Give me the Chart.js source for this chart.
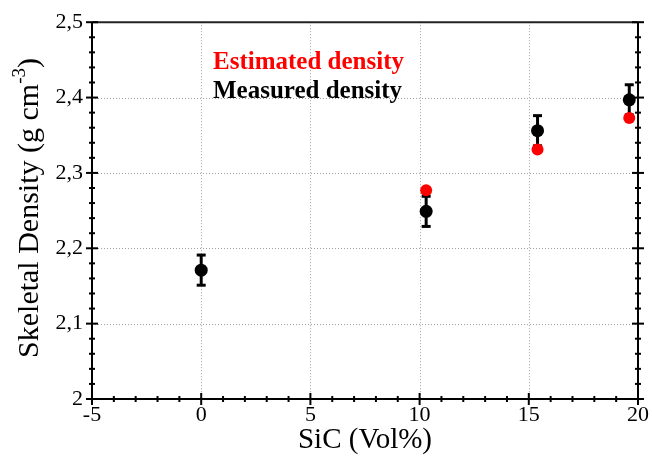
<!DOCTYPE html>
<html>
<head>
<meta charset="utf-8">
<script src="https://cdn.jsdelivr.net/npm/chart.js@4.4.1/dist/chart.umd.min.js"></script>
<style>
html,body{margin:0;padding:0;background:#fff;}
#wrap{width:652px;height:456px;position:relative;}
</style>
</head>
<body>
<div id="wrap"><canvas id="c" width="652" height="456"></canvas></div>
<script>
// ---- data ----
const sicVol = [0, 10.3, 15.4, 19.6];
const measuredDensity = [2.171, 2.249, 2.356, 2.397];
const measuredError = [0.02, 0.02, 0.02, 0.02];
const estSicVol = [10.3, 15.4, 19.6];
const estimatedDensity = [2.277, 2.331, 2.373];
const seriesNames = ['Estimated density', 'Measured density'];
const xTitle = 'SiC (Vol%)';
const yTitleMain = 'Skeletal Density (g cm';
const yTitleSup = '-3';
const yTitleEnd = ')';
const xRange = [-5, 20];
const yRange = [2, 2.5];

const FONT = '"Liberation Serif", "Times New Roman", serif';

const framePlugin = {
  id: 'frame',
  beforeDatasetsDraw(chart) {
    const {ctx, chartArea: a, scales: {x, y}} = chart;
    ctx.save();
    // dotted grid
    ctx.strokeStyle = '#a0a0a0';
    ctx.lineWidth = 1;
    ctx.setLineDash([1, 2]);
    x.ticks.forEach(t => {
      const px = Math.round(x.getPixelForValue(t.value)) + 0.5;
      ctx.beginPath(); ctx.moveTo(px, a.top); ctx.lineTo(px, a.bottom); ctx.stroke();
    });
    y.ticks.forEach(t => {
      const py = Math.round(y.getPixelForValue(t.value)) + 0.5;
      ctx.beginPath(); ctx.moveTo(a.left, py); ctx.lineTo(a.right, py); ctx.stroke();
    });
    ctx.setLineDash([]);
    // error bars
    ctx.strokeStyle = '#000';
    ctx.lineWidth = 3;
    measuredDensity.forEach((v, i) => {
      const px = x.getPixelForValue(sicVol[i]);
      const pTop = y.getPixelForValue(v + measuredError[i]);
      const pBot = y.getPixelForValue(v - measuredError[i]);
      ctx.beginPath(); ctx.moveTo(px, pTop); ctx.lineTo(px, pBot); ctx.stroke();
      ctx.beginPath(); ctx.moveTo(px - 4.5, pTop); ctx.lineTo(px + 4.5, pTop); ctx.stroke();
      ctx.beginPath(); ctx.moveTo(px - 4.5, pBot); ctx.lineTo(px + 4.5, pBot); ctx.stroke();
    });
    ctx.restore();
  },
  afterDraw(chart) {
    const {ctx, chartArea: a, scales: {x, y}} = chart;
    ctx.save();
    // frame
    ctx.strokeStyle = '#222';
    ctx.lineWidth = 2;
    ctx.beginPath();
    ctx.moveTo(a.left, a.top); ctx.lineTo(a.right, a.top);
    ctx.stroke();
    ctx.strokeStyle = '#000';
    ctx.beginPath();
    ctx.moveTo(a.left, a.top); ctx.lineTo(a.left, a.bottom); ctx.lineTo(a.right, a.bottom); ctx.lineTo(a.right, a.top);
    ctx.stroke();
    // ticks
    ctx.lineWidth = 2;
    for (let v = xRange[0]; v <= xRange[1] + 1e-9; v += 1) {
      const px = x.getPixelForValue(v);
      const major = Math.abs(v % 5) < 1e-9;
      const L = major ? 6 : 3;
      ctx.beginPath(); ctx.moveTo(px, a.bottom - L); ctx.lineTo(px, a.bottom + L); ctx.stroke();
    }
    for (let k = 0; k <= 25; k++) {
      const v = yRange[0] + k * 0.02;
      const py = y.getPixelForValue(v);
      const major = k % 5 === 0;
      const L = major ? 6 : 3;
      ctx.beginPath(); ctx.moveTo(a.left - L, py); ctx.lineTo(a.left + L, py); ctx.stroke();
      ctx.beginPath(); ctx.moveTo(a.right - L, py); ctx.lineTo(a.right + L, py); ctx.stroke();
    }
    // legend text
    ctx.textBaseline = 'alphabetic';
    ctx.textAlign = 'left';
    ctx.font = 'bold 25px ' + FONT;
    ctx.fillStyle = '#ff0000';
    ctx.fillText(seriesNames[0], 213, 69);
    ctx.fillStyle = '#000';
    ctx.fillText(seriesNames[1], 213, 98);
    // x title
    ctx.font = '29px ' + FONT;
    ctx.textAlign = 'center';
    ctx.fillText(xTitle, (a.left + a.right) / 2, 448);
    // y title with superscript
    ctx.textAlign = 'left';
    const mainFont = '30px ' + FONT, supFont = '19px ' + FONT;
    ctx.font = mainFont; const w1 = ctx.measureText(yTitleMain).width; const w3 = ctx.measureText(yTitleEnd).width;
    ctx.font = supFont; const w2 = ctx.measureText(yTitleSup).width;
    const total = w1 + w2 + w3;
    ctx.translate(38, 208);
    ctx.rotate(-Math.PI / 2);
    let sx = -total / 2;
    ctx.font = mainFont; ctx.fillText(yTitleMain, sx, 0); sx += w1;
    ctx.font = supFont; ctx.fillText(yTitleSup, sx, -13); sx += w2;
    ctx.font = mainFont; ctx.fillText(yTitleEnd, sx, 0);
    ctx.restore();
  }
};

new Chart(document.getElementById('c'), {
  type: 'scatter',
  data: {
    datasets: [
      {
        label: seriesNames[0],
        data: estSicVol.map((v, i) => ({x: v, y: estimatedDensity[i]})),
        backgroundColor: '#ff0000',
        borderColor: '#ff0000',
        pointRadius: 6,
        borderWidth: 0,
        order: 0
      },
      {
        label: seriesNames[1],
        data: sicVol.map((v, i) => ({x: v, y: measuredDensity[i]})),
        backgroundColor: '#000000',
        borderColor: '#000000',
        pointRadius: 6.5,
        borderWidth: 0,
        order: 1
      }
    ]
  },
  options: {
    responsive: false,
    animation: false,
    layout: {padding: {top: 21, right: 13, left: 0, bottom: 0}},
    plugins: {legend: {display: false}, tooltip: {enabled: false}},
    scales: {
      x: {
        type: 'linear', min: xRange[0], max: xRange[1],
        grid: {display: false, drawTicks: false},
        border: {display: false},
        ticks: {stepSize: 5, color: '#000', font: {family: FONT, size: 22}, padding: 3},
        afterFit(s) { s.height = 57; }
      },
      y: {
        type: 'linear', min: yRange[0], max: yRange[1],
        grid: {display: false, drawTicks: false},
        border: {display: false},
        ticks: {stepSize: 0.1, color: '#000', font: {family: FONT, size: 22}, padding: 9,
          callback: v => String(Number(v.toFixed(1))).replace('.', ',')},
        afterFit(s) { s.width = 92; }
      }
    }
  },
  plugins: [framePlugin]
});
</script>
</body>
</html>
